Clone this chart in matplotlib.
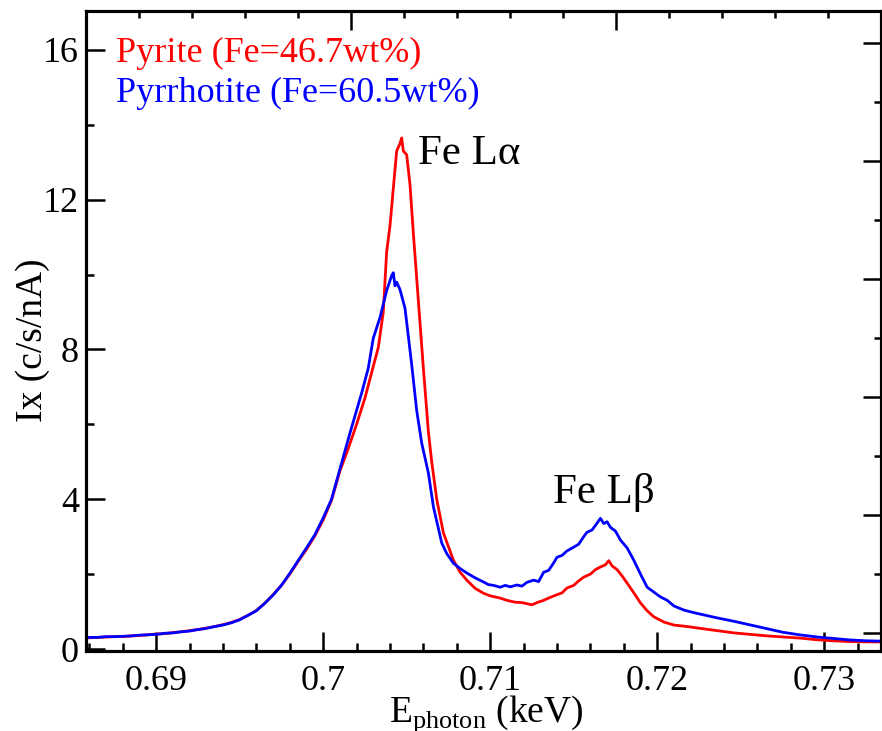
import matplotlib
matplotlib.use("Agg")
import matplotlib.pyplot as plt
from matplotlib.ticker import MultipleLocator, NullFormatter

plt.rcParams['font.family'] = ['Liberation Serif', 'DejaVu Serif']
plt.rcParams['mathtext.fontset'] = 'custom'
plt.rcParams['mathtext.rm'] = 'Liberation Serif'

# ---- data ----
pyrite_E = [0.6860, 0.6865, 0.6870, 0.6875, 0.6880, 0.6885, 0.6890, 0.6895, 0.6900, 0.6905,
            0.6910, 0.6915, 0.6920, 0.6925, 0.6930, 0.6935, 0.6940, 0.6945, 0.6950, 0.6955,
            0.6960, 0.6965, 0.6970, 0.6975, 0.6980, 0.6985, 0.6990, 0.6995, 0.7000, 0.7005,
            0.7010, 0.7015, 0.7020, 0.7025, 0.7030, 0.7033, 0.7036, 0.7038, 0.7040, 0.7042,
            0.7044, 0.7046, 0.7047, 0.7048, 0.7050, 0.7052, 0.7054, 0.7057, 0.7060, 0.7063,
            0.7065, 0.7068, 0.7072, 0.7078, 0.7082, 0.7086, 0.7091, 0.7096, 0.7100, 0.7106,
            0.7110, 0.7115, 0.7119, 0.7122, 0.7125, 0.7128, 0.7132, 0.7136, 0.7140, 0.7143,
            0.7146, 0.7150, 0.7153, 0.7156, 0.7160, 0.7163, 0.7166, 0.7169, 0.7171, 0.7173,
            0.7176, 0.7179, 0.7182, 0.7186, 0.7190, 0.7194, 0.7198, 0.7204, 0.7210, 0.7218,
            0.7226, 0.7236, 0.7246, 0.7256, 0.7266, 0.7276, 0.7286, 0.7295, 0.7305, 0.7315,
            0.7326, 0.7334]
pyrite_I = [0.30, 0.31, 0.32, 0.33, 0.33, 0.35, 0.36, 0.38, 0.40, 0.41,
            0.44, 0.46, 0.49, 0.52, 0.56, 0.60, 0.65, 0.71, 0.79, 0.90,
            1.03, 1.22, 1.45, 1.70, 2.00, 2.34, 2.66, 3.02, 3.45, 3.97,
            4.75, 5.35, 6.00, 6.70, 7.55, 8.05, 9.00, 10.6, 11.3, 12.3,
            13.3, 13.5, 13.65, 13.3, 13.2, 12.4, 11.1, 9.3, 7.5, 5.8,
            5.0, 4.0, 3.1, 2.37, 2.05, 1.84, 1.62, 1.49, 1.42, 1.36,
            1.30, 1.25, 1.24, 1.21, 1.18, 1.24, 1.30, 1.38, 1.45, 1.50,
            1.63, 1.70, 1.82, 1.92, 2.00, 2.12, 2.19, 2.25, 2.36, 2.22,
            2.12, 1.95, 1.76, 1.50, 1.23, 1.02, 0.86, 0.72, 0.64, 0.60,
            0.55, 0.49, 0.43, 0.39, 0.35, 0.32, 0.29, 0.25, 0.22, 0.20,
            0.19, 0.19]

pyrrhotite_E = [0.6860, 0.6865, 0.6870, 0.6875, 0.6880, 0.6885, 0.6890, 0.6895, 0.6900, 0.6905,
                0.6910, 0.6915, 0.6920, 0.6925, 0.6930, 0.6935, 0.6940, 0.6945, 0.6950, 0.6955,
                0.6960, 0.6965, 0.6970, 0.6975, 0.6980, 0.6985, 0.6990, 0.6995, 0.7000, 0.7005,
                0.7010, 0.7016, 0.7023, 0.7027, 0.7030, 0.7034, 0.7038, 0.7041, 0.7042, 0.7043,
                0.7044, 0.7046, 0.7049, 0.7053, 0.7056, 0.7059, 0.7063, 0.7066, 0.7071, 0.7074,
                0.7078, 0.7082, 0.7086, 0.7091, 0.7096, 0.7099, 0.7102, 0.7106, 0.7109, 0.7112,
                0.7116, 0.7119, 0.7122, 0.7126, 0.7129, 0.7132, 0.7135, 0.7138, 0.7140, 0.7143,
                0.7146, 0.7150, 0.7153, 0.7156, 0.7158, 0.7161, 0.7163, 0.7166, 0.7168, 0.7170,
                0.7172, 0.7175, 0.7178, 0.7182, 0.7186, 0.7190, 0.7194, 0.7198, 0.7202, 0.7206,
                0.7210, 0.7216, 0.7222, 0.7229, 0.7236, 0.7246, 0.7256, 0.7265, 0.7275, 0.7285,
                0.7296, 0.7306, 0.7316, 0.7325, 0.7334]
pyrrhotite_I = [0.31, 0.31, 0.33, 0.33, 0.34, 0.35, 0.37, 0.38, 0.39, 0.42,
                0.43, 0.46, 0.48, 0.52, 0.55, 0.60, 0.64, 0.70, 0.78, 0.90,
                1.02, 1.22, 1.44, 1.70, 2.02, 2.36, 2.70, 3.05, 3.50, 4.00,
                4.80, 5.76, 6.83, 7.50, 8.30, 8.85, 9.57, 9.97, 10.05, 9.70,
                9.80, 9.60, 9.10, 7.60, 6.37, 5.50, 4.70, 3.80, 2.83, 2.55,
                2.29, 2.15, 2.03, 1.90, 1.79, 1.72, 1.70, 1.65, 1.70, 1.66,
                1.71, 1.68, 1.78, 1.84, 1.80, 2.05, 2.10, 2.30, 2.45, 2.50,
                2.62, 2.72, 2.80, 3.00, 3.12, 3.18, 3.30, 3.49, 3.35, 3.40,
                3.25, 3.15, 2.91, 2.70, 2.37, 2.00, 1.65, 1.52, 1.39, 1.30,
                1.15, 1.04, 0.97, 0.90, 0.83, 0.74, 0.64, 0.55, 0.45, 0.38,
                0.32, 0.28, 0.24, 0.22, 0.21]

x_ticks = [0.69, 0.70, 0.71, 0.72, 0.73]
x_tick_labels = ['0.69', '0.7', '0.71', '0.72', '0.73']
y_ticks = [0, 4, 8, 12, 16]

legend_pyrite = 'Pyrite (Fe=46.7wt%)'
legend_pyrrhotite = 'Pyrrhotite (Fe=60.5wt%)'

# ---- figure ----
fig = plt.figure(figsize=(8.82, 7.31), dpi=100)
ax = fig.add_axes([86/882, 1-651/731, 795/882, 640/731])

ax.plot(pyrite_E, pyrite_I, color='#ff0000', lw=2.0)
ax.plot(pyrrhotite_E, pyrrhotite_I, color='#0000ff', lw=2.0)

ax.set_xlim(0.6858, 0.7334)
ax.set_ylim(-0.053, 17.04)
ax.set_xticks(x_ticks)
ax.set_xticklabels(x_tick_labels)
ax.set_yticks(y_ticks)
ax.xaxis.set_minor_locator(MultipleLocator(0.002))
ax.yaxis.set_minor_locator(MultipleLocator(2))
ax.tick_params(which='both', direction='in', top=False, right=False,
               labelsize=26, width=1.8)
ax.tick_params(axis='x', which='major', length=14, pad=10)
ax.tick_params(axis='y', which='major', length=14, pad=5)
ax.tick_params(which='minor', length=6)
for s in ax.spines.values():
    s.set_linewidth(2.2)

# secondary (unlabelled) top and right axes as in the original
axt = ax.twiny()
axt.set_xlim(0, 15)
axt.xaxis.set_major_locator(MultipleLocator(5))
axt.xaxis.set_minor_locator(MultipleLocator(1))
axt.xaxis.set_major_formatter(NullFormatter())
axt.tick_params(which='both', direction='in', width=1.8)
axt.tick_params(which='major', length=14)
axt.tick_params(which='minor', length=5)

axr = ax.twinx()
axr.set_ylim(-1.156, 4.27)
axr.yaxis.set_major_locator(MultipleLocator(1))
axr.yaxis.set_minor_locator(MultipleLocator(0.5))
axr.yaxis.set_major_formatter(NullFormatter())
axr.tick_params(which='both', direction='in', width=1.8)
axr.tick_params(which='major', length=13)
axr.tick_params(which='minor', length=5)
for a in (axt, axr):
    for s in a.spines.values():
        s.set_linewidth(2.2)

# texts
ax.text(0.6876, 15.68, legend_pyrite, color='#ff0000', fontsize=26, va='baseline')
ax.text(0.6876, 14.61, legend_pyrrhotite, color='#0000ff', fontsize=26, va='baseline')
ax.text(0.70569, 12.95, 'Fe Lα', color='black', fontsize=31, va='baseline')
ax.text(0.71377, 3.90, 'Fe Lβ', color='black', fontsize=31, va='baseline')

fig.text(33/882, 1-340/731, 'Ix (c/s/nA)', rotation=90, fontsize=27,
         ha='center', va='center')
fig.text(486/882, 1-722/731, r'E$_{\mathrm{photon}}$ (keV)', fontsize=27,
         ha='center', va='baseline')

fig.savefig('out.png', dpi=100)
